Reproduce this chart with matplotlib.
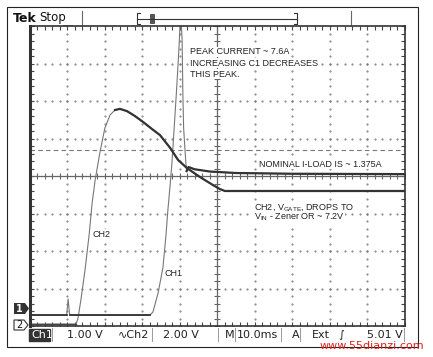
import numpy as np
import matplotlib.pyplot as plt
from matplotlib.patches import Rectangle, Polygon

plt.rcParams['mathtext.fontset'] = 'custom'
plt.rcParams['mathtext.rm'] = 'Liberation Sans'

# traces: time in ms (10 ms/div), level in divisions from centre
ch1_t = [0, 9.9, 10.3, 10.7, 32.1, 32.9, 34.3, 35.6, 36.4, 36.9, 37.5, 38.0, 38.8,
         39.3, 39.9, 40.3, 40.7, 40.9, 41.1, 41.5, 41.7, 41.9, 42.4, 44.0, 48.0,
         55.0, 70.0, 100.0]
ch1_v = [-3.71, -3.71, -3.28, -3.71, -3.71, -3.63, -3.12, -2.43, -1.57, -0.91, -0.24,
         0.37, 1.63, 2.43, 3.49, 4.4, 3.63, 2.16, 1.28, 0.64, 0.35, 0.13, 0.24, 0.18,
         0.12, 0.08, 0.06, 0.05]

ch2_t = [0, 12.4, 12.9, 13.7, 14.8, 15.9, 16.7, 17.5, 18.8, 20.1, 21.5, 22.8, 24.1,
         26.0, 28.1, 30.3, 32.7, 34.8, 37.5, 39.6, 42.0, 45.5, 48.9, 50.8, 52.1, 100.0]
ch2_v = [-3.95, -3.95, -3.81, -3.31, -2.51, -1.57, -0.72, -0.11, 0.64, 1.28, 1.63,
         1.76, 1.79, 1.73, 1.60, 1.44, 1.25, 1.09, 0.75, 0.43, 0.21, -0.03, -0.24,
         -0.35, -0.40, -0.40]

cursor_level = 0.69

notes = [
    (42.8, 3.31, 'PEAK CURRENT ~ 7.6A'),
    (42.8, 3.01, 'INCREASING C1 DECREASES'),
    (42.8, 2.72, 'THIS PEAK.'),
    (61.2, 0.32, 'NOMINAL I-LOAD IS ~ 1.375A'),
    (59.9, -0.83, r'CH2, V$_{\rm GATE}$, DROPS TO'),
    (59.9, -1.09, r'V$_{\rm IN}$ - Zener OR ~ 7.2V'),
    (16.9, -1.55, 'CH2'),
    (36.1, -2.61, 'CH1'),
]

status = [(31, 'Ch1'), (67, '1.00 V'), (118, '∿Ch2'), (163, '2.00 V'),
          (225, 'M'), (237, '10.0ms'), (292, 'A'), (312, 'Ext'), (338, '∫'),
          (367, '5.01 V')]

fig = plt.figure(figsize=(4.33, 3.57), dpi=100)

# page layer in pixel coordinates
bg = fig.add_axes([0, 0, 1, 1])
bg.set_xlim(0, 433)
bg.set_ylim(357, 0)
bg.axis('off')
bg.add_patch(Rectangle((7, 7), 411, 340, fill=False, ec='#222', lw=0.8))
bg.text(13, 18, 'Tek', fontsize=9, fontweight='bold', va='center', color='#111')
bg.text(39, 17.5, 'Stop', fontsize=8.5, va='center', color='#111')
for sx in (82, 351):
    bg.plot([sx, sx], [11, 25], color='#666', lw=0.8)
bg.plot([137, 297], [19, 19], color='#333', lw=0.8)
for bx, d in ((137, 3), (297, -3)):
    bg.plot([bx + d, bx, bx, bx + d], [13, 13, 24, 24], color='#333', lw=0.8)
bg.add_patch(Rectangle((150, 14), 4, 9, fc='#555', ec='#333', lw=0.5))
# trigger position marker
bg.add_patch(Polygon([[63, 25.5], [73, 25.5], [68, 30]], closed=True, fc='#222'))
bg.add_patch(Rectangle((64, 31), 8, 10, fc='#333', ec='#333'))
bg.text(68, 36, 'T', fontsize=6, color='white', ha='center', va='center',
        fontweight='bold')
# channel ground markers
bg.add_patch(Polygon([[14, 303], [25, 303], [29, 308.5], [25, 314], [14, 314]],
                     closed=True, fc='#333'))
bg.text(19.5, 308.5, '1', fontsize=7, color='white', ha='center', va='center',
        fontweight='bold')
bg.add_patch(Polygon([[14, 320], [24, 320], [28, 325], [24, 330], [14, 330]],
                     closed=True, fc='white', ec='#333', lw=0.8))
bg.text(19.5, 325, '2', fontsize=7, color='#111', ha='center', va='center')
# status bar
bg.add_patch(Rectangle((29, 329), 21, 12, fc='#333', ec='#333'))
for sx in (52, 152, 218, 235, 281, 300, 404):
    bg.plot([sx, sx], [328, 341], color='#999', lw=0.7)
for sx, s in status:
    bg.text(sx, 335, s, fontsize=8, va='center',
            color='white' if s == 'Ch1' else '#222')
bg.text(320, 346, 'www.55dianzi.com', fontsize=8, color='#e0201a', va='center')

# scope screen
ax = fig.add_axes([29.5 / 433, 31 / 357, 375 / 433, 300 / 357])
ax.set_xlim(0, 100)
ax.set_ylim(-4, 4)
ax.set_xticks(np.arange(0, 101, 10))
ax.set_xticks(np.arange(0, 101, 2), minor=True)
ax.set_yticks(np.arange(-4, 4.1, 1))
ax.set_yticks(np.arange(-4, 4.1, 0.2), minor=True)
ax.tick_params(which='both', direction='in', length=3, width=0.8, color='#444',
               top=True, right=True, labelbottom=False, labelleft=False)
for side, sp in ax.spines.items():
    sp.set_color('#333')
    sp.set_linewidth(1.2)
ax.spines['left'].set_linewidth(2.2)

# graticule dots
for gx in range(10, 100, 10):
    if gx != 50:
        yy = np.arange(-4, 4.01, 0.2)
        ax.plot(np.full_like(yy, gx), yy, ls='none', marker='.', ms=1.0, color='#777')
for gy in (-3, -2, -1, 1, 2, 3):
    xx = np.arange(0, 100.1, 2)
    ax.plot(xx, np.full_like(xx, gy), ls='none', marker='.', ms=1.0, color='#777')
# centre axes with ticks
ax.axhline(0, color='#666', lw=0.9)
ax.axvline(50, color='#666', lw=0.9)
xx = np.arange(0, 100.1, 2)
ax.plot(xx, np.zeros_like(xx), ls='none', marker='|', ms=4, mew=0.8, color='#666')
yy = np.arange(-4, 4.01, 0.2)
ax.plot(np.full_like(yy, 50), yy, ls='none', marker='_', ms=4, mew=0.8, color='#666')
ax.axhline(cursor_level, color='#777', lw=0.8, ls=(0, (4, 3)))

# traces
t1, v1 = np.array(ch1_t), np.array(ch1_v)
t2, v2 = np.array(ch2_t), np.array(ch2_v)
ax.plot(t1, v1, color='#777', lw=0.8)
ax.plot(t2, v2, color='#777', lw=0.8)
m = (t1 >= 10.7) & (t1 <= 32.1)
ax.plot(t1[m], v1[m], color='#333', lw=1.3)
ax.plot(t1[:2], v1[:2], color='#333', lw=1.3)
m = (t1 >= 41.9)
ax.plot(t1[m], v1[m], color='#333', lw=1.6)
m = (t2 <= 12.4)
ax.plot(t2[m], v2[m], color='#444', lw=1.0)
m = (t2 >= 22.8)
ax.plot(t2[m], v2[m], color='#333', lw=1.6)

for x, y, s in notes:
    ax.text(x, y, s, fontsize=6.5, family='Liberation Sans', va='center', color='#222',
            bbox=dict(fc='white', ec='none', pad=0.3), zorder=5)

fig.savefig('out.png', dpi=100)
